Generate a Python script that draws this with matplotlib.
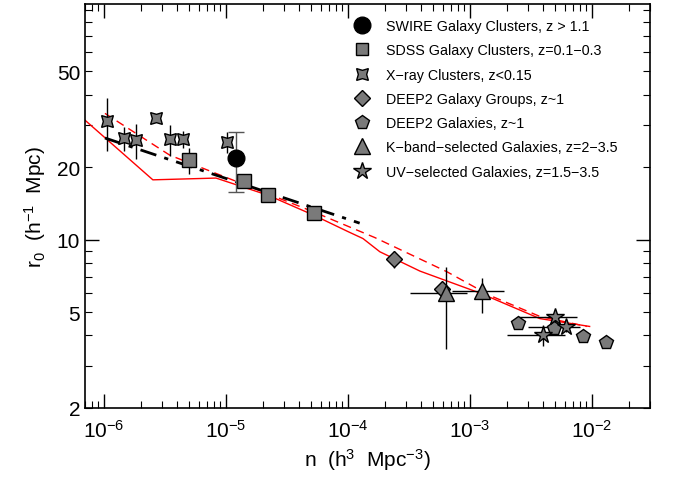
"""Correlation length r0 against number density n for clusters and galaxies."""
import matplotlib
matplotlib.use("Agg")
import matplotlib.pyplot as plt
from matplotlib.lines import Line2D
from matplotlib.ticker import FixedLocator, FuncFormatter, LogLocator, NullFormatter

plt.rcParams["font.family"] = ["Liberation Sans", "DejaVu Sans"]
plt.rcParams["mathtext.fontset"] = "custom"
plt.rcParams["mathtext.rm"] = "Liberation Sans"
plt.rcParams["mathtext.it"] = "Liberation Sans:italic"

# SWIRE clusters, z > 1.1
swire_n = [1.2e-5]
swire_r0 = [21.8]
swire_err = [6.1]

# SDSS clusters
sdss_n = [5.0e-6, 1.4e-5, 2.2e-5, 5.3e-5]
sdss_r0 = [21.3, 17.5, 15.3, 12.9]
sdss_err = [2.6, 0.8, 0.6, 0.5]

# X-ray clusters
xray_n = [1.06e-6, 1.46e-6, 1.83e-6, 2.67e-6, 3.47e-6, 4.44e-6, 1.02e-5]
xray_r0 = [31.0, 26.4, 25.9, 31.9, 26.1, 26.1, 25.4]
xray_err = [7.6, 3.0, 4.2, 0.5, 3.9, 2.0, 2.5]

# DEEP2 groups
groups_n = [2.4e-4, 5.9e-4]
groups_r0 = [8.3, 6.26]
groups_err = [0.7, 0.4]

# DEEP2 galaxies
deep2_n = [2.47e-3, 4.89e-3, 8.43e-3, 1.30e-2]
deep2_r0 = [4.49, 4.28, 3.97, 3.75]

# K-band selected galaxies
kband_n = [6.35e-4, 1.25e-3]
kband_r0 = [6.0, 6.1]
kband_err_lo = [2.5, 1.16]
kband_err_hi = [1.7, 0.8]
kband_nerr_lo = [3.1e-4, 5.4e-4]
kband_nerr_hi = [3.1e-4, 6.5e-4]

# UV selected galaxies
uv_n = [4.97e-3, 6.12e-3, 3.96e-3]
uv_r0 = [4.75, 4.32, 4.0]
uv_err = [0.35, 0.2, 0.4]
uv_nerr_lo = [2.5e-3, 3.1e-3, 1.95e-3]
uv_nerr_hi = [2.57e-3, 1.9e-3, 2.05e-3]

# model curves
solid_n = [7e-7, 2.52e-6, 8.3e-6, 2.2e-5, 5.3e-5, 1.0e-4, 1.33e-4, 1.83e-4,
           3.9e-4, 1.21e-3, 3.75e-3, 9.6e-3]
solid_r0 = [31.3, 17.7, 18.0, 15.3, 12.6, 10.8, 10.1, 8.9, 7.4, 6.0, 4.7, 4.36]
dashed_n = [1.02e-6, 3.47e-6, 5.3e-5, 1.66e-4, 6.47e-4, 1.46e-3, 3.75e-3, 9.1e-3]
dashed_r0 = [33.4, 22.4, 13.0, 10.2, 7.36, 5.86, 4.8, 4.36]
fit_n = [1.02e-6, 1.25e-4]
fit_r0 = [26.4, 11.7]

GRAY = "#7a7a7a"

fig = plt.figure(figsize=(6.73, 4.81), dpi=100)
ax = fig.add_axes([85 / 673, 1 - 409 / 481, 565 / 673, 404 / 481])

ax.plot(solid_n, solid_r0, color="red", lw=1.0, zorder=2)
ax.plot(dashed_n, dashed_r0, color="red", lw=1.0, ls=(0, (6, 4)), zorder=2)
ax.plot(fit_n, fit_r0, color="black", lw=2.0, ls=(0, (6, 3, 1.5, 3)), zorder=2)

eb = dict(ls="none", ecolor="black", elinewidth=1.0, mec="black", mew=1.0,
          mfc=GRAY, zorder=3)

ax.errorbar(xray_n, xray_r0, yerr=xray_err, marker=(4, 1, 45), ms=12, **eb)
ax.errorbar(sdss_n, sdss_r0, yerr=sdss_err, marker="s", ms=10, **eb)
ax.errorbar(swire_n, swire_r0, yerr=swire_err, marker="o", ms=12,
            capsize=6, ls="none", ecolor="#555555", elinewidth=1.0,
            mfc="black", mec="black", zorder=4)
ax.errorbar(groups_n, groups_r0, yerr=groups_err, marker="D", ms=8, **eb)
ax.errorbar(kband_n, kband_r0, yerr=[kband_err_lo, kband_err_hi],
            xerr=[kband_nerr_lo, kband_nerr_hi], marker="^", ms=12, **eb)
ax.errorbar(deep2_n, deep2_r0, marker="p", ms=10, **eb)
ax.errorbar(uv_n, uv_r0, yerr=uv_err, xerr=[uv_nerr_lo, uv_nerr_hi],
            marker="*", ms=13, **eb)

ax.set_xscale("log")
ax.set_yscale("log")
ax.set_xlim(7e-7, 3e-2)
ax.set_ylim(2, 95)

# y axis: one long tick at 10, labels at 2, 5, 10, 20, 50
ax.yaxis.set_major_locator(FixedLocator([10]))
ax.yaxis.set_minor_locator(LogLocator(base=10, subs=range(2, 10)))
ax.yaxis.set_major_formatter(FuncFormatter(lambda v, p: "10"))
ax.yaxis.set_minor_formatter(
    FuncFormatter(lambda v, p: f"{v:g}" if round(v) in (2, 5, 20, 50) else ""))
ax.xaxis.set_minor_formatter(NullFormatter())

ax.tick_params(which="both", direction="in", top=True, right=True,
               labelsize=15, colors="black")
ax.tick_params(which="major", length=10, width=1.0)
ax.tick_params(which="minor", length=5, width=0.8)
ax.tick_params(axis="x", which="major", pad=8)
for s in ax.spines.values():
    s.set_linewidth(1.2)

ax.set_xlabel("n  (h$^{3}$  Mpc$^{-3}$)", fontsize=15, labelpad=4)
ax.set_ylabel("r$_{0}$  (h$^{-1}$  Mpc)", fontsize=15, labelpad=6)

handles = [
    Line2D([], [], ls="none", marker="o", ms=12, mfc="black", mec="black"),
    Line2D([], [], ls="none", marker="s", ms=9, mfc=GRAY, mec="black"),
    Line2D([], [], ls="none", marker=(4, 1, 45), ms=12, mfc=GRAY, mec="black"),
    Line2D([], [], ls="none", marker="D", ms=8, mfc=GRAY, mec="black"),
    Line2D([], [], ls="none", marker="p", ms=10, mfc=GRAY, mec="black"),
    Line2D([], [], ls="none", marker="^", ms=12, mfc=GRAY, mec="black"),
    Line2D([], [], ls="none", marker="*", ms=13, mfc=GRAY, mec="black"),
]
labels = [
    "SWIRE Galaxy Clusters, z > 1.1",
    "SDSS Galaxy Clusters, z=0.1\u22120.3",
    "X\u2212ray Clusters, z<0.15",
    "DEEP2 Galaxy Groups, z~1",
    "DEEP2 Galaxies, z~1",
    "K\u2212band\u2212selected Galaxies, z=2\u22123.5",
    "UV\u2212selected Galaxies, z=1.5\u22123.5",
]
ax.legend(handles, labels, loc="upper left", bbox_to_anchor=(0.475, 0.963),
          frameon=False, fontsize=10.3, handlelength=1.2, handletextpad=1.1,
          labelspacing=0.72, borderpad=0, borderaxespad=0)

fig.savefig("out.png", dpi=100)
